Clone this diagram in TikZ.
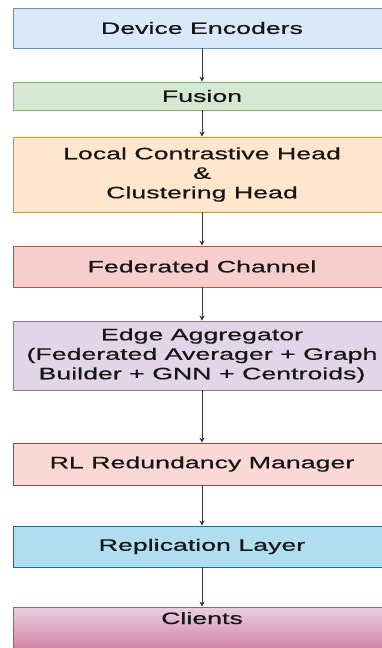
\documentclass[tikz,border=0pt]{standalone}
\usepackage{fontspec}
\newfontfamily\boxfont[FakeStretch=1.62,FakeBold=0.6]{Liberation Sans}
\usetikzlibrary{arrows.meta}
\definecolor{txt}{HTML}{161616}
\definecolor{arr}{HTML}{333333}
\definecolor{devF}{HTML}{DAE8FC}\definecolor{devD}{HTML}{6C8EBF}
\definecolor{fusF}{HTML}{D5E8D4}\definecolor{fusD}{HTML}{82B366}
\definecolor{locF}{HTML}{FFE6CC}\definecolor{locD}{HTML}{D79B00}
\definecolor{fedF}{HTML}{F8CECC}\definecolor{fedD}{HTML}{B85450}
\definecolor{edgF}{HTML}{E1D5E7}\definecolor{edgD}{HTML}{9673A6}
\definecolor{rlF}{HTML}{FAD9D5}\definecolor{rlD}{HTML}{AE4132}
\definecolor{repF}{HTML}{B1DDF0}\definecolor{repD}{HTML}{10739E}
\definecolor{cliT}{HTML}{E8D0DF}\definecolor{cliB}{HTML}{CC6A95}\definecolor{cliD}{HTML}{996185}
\begin{document}
\begin{tikzpicture}[x=1pt,y=-1pt,
  box/.style={draw, line width=0.8pt, rectangle, minimum width=378pt, inner sep=0pt,
    align=center, text=txt, font=\boxfont\fontsize{16.5}{19.5}\selectfont},
  flow/.style={draw=arr, line width=0.8pt, -{Stealth[length=5pt,width=5pt]}}]
\useasboundingbox (0,0) rectangle (381,648);
\fill[white] (0,0) rectangle (381,648);
\node[box, draw=devD, fill=devF, minimum height=40pt] (dev) at (202,28) {Device Encoders};
\node[box, draw=fusD, fill=fusF, minimum height=28pt] (fus) at (202,96) {Fusion};
\node[box, draw=locD, fill=locF, minimum height=75pt] (loc) at (202,174.5) {Local Contrastive Head\\\&\\Clustering Head};
\node[box, draw=fedD, fill=fedF, minimum height=41pt] (fed) at (202,266.5) {Federated Channel};
\node[box, draw=edgD, fill=edgF, minimum height=69pt] (edg) at (202,355.5) {Edge Aggregator\\(Federated Averager + Graph\\Builder + GNN + Centroids)};
\node[box, draw=rlD, fill=rlF, minimum height=42pt] (rl) at (202,464) {RL Redundancy Manager};
\node[box, draw=repD, fill=repF, minimum height=41pt] (rep) at (202,546.5) {Replication Layer};
\node[box, draw=cliD, top color=cliT, bottom color=cliB, minimum height=55pt, text height=12pt, text depth=33pt] (cli) at (202,634.5) {Clients};
\draw[flow] (dev) -- (fus);
\draw[flow] (fus) -- (loc);
\draw[flow] (loc) -- (fed);
\draw[flow] (fed) -- (edg);
\draw[flow] (edg) -- (rl);
\draw[flow] (rl) -- (rep);
\draw[flow] (rep) -- (cli);
\end{tikzpicture}
\end{document}
